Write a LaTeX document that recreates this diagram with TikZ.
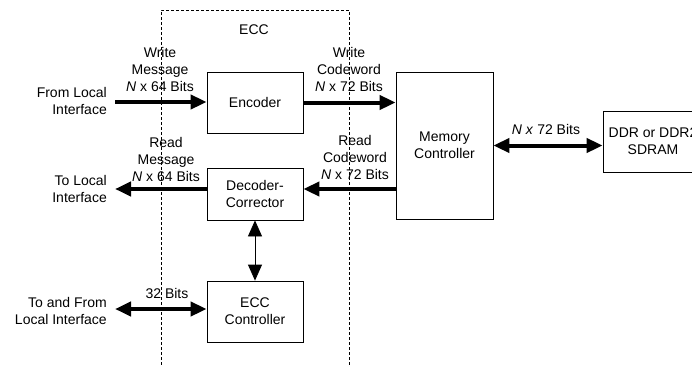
\documentclass[tikz,border=0pt]{standalone}
\usepackage{fontspec}
\setmainfont{Liberation Sans}
\usetikzlibrary{arrows.meta}

\begin{document}
\begin{tikzpicture}[x=1pt,y=-1pt,
    >={Triangle[length=16pt,width=14pt]},
    blk/.style={draw,line width=0.8pt,minimum width=96pt,inner sep=0pt,align=center,font=\fontsize{14}{17}\selectfont},
    lbl/.style={inner sep=0pt,align=center,font=\fontsize{14}{17}\selectfont},
    bus/.style={line width=4pt,->},
    ecc line/.style={line width=0.8pt,dash pattern=on 3pt off 2pt}]
  \useasboundingbox (0,0) rectangle (692,364);
  \clip (0,0) rectangle (692,364);
  \draw[ecc line] (161,370) -- (161,10) -- (349,10) -- (349,370);
  \node[lbl] (ecclbl) at (254,30) {ECC};

  \node[blk,minimum height=61pt] (enc) at (255,102.5) {Encoder};
  \node[blk,minimum height=52pt] (dec) at (255,194) {Decoder-\\Corrector};
  \node[blk,minimum height=61pt] (eccc) at (255,311.5) {ECC\\Controller};
  \node[blk,minimum width=97pt,minimum height=147pt] (mc) at (444.5,145.5) {Memory\\Controller};
  \node[blk,minimum width=100pt,minimum height=61pt] (ddr) at (653,141.5) {DDR or DDR2\\SDRAM};

  \coordinate (fromli) at (115,102);
  \coordinate (toli) at (115,189);
  \coordinate (bothli) at (115,309);

  \draw[bus] (fromli) -- (fromli -| enc.west);
  \draw[bus] (enc.east) -- (enc.east -| mc.west);
  \draw[bus] (mc.west |- toli) -- (toli -| dec.east);
  \draw[bus] (toli -| dec.west) -- (toli);
  \draw[<->,line width=0.8pt] (dec.south) -- (eccc.north);
  \draw[bus,<->] (bothli) -- (bothli -| eccc.west);
  \draw[bus,<->] (mc.east) -- (mc.east -| ddr.west);

  \node[lbl] (wmsg) at (160,69) {Write\\Message\\\textit{N} x 64 Bits};
  \node[lbl] (wcw) at (349,69) {Write\\Codeword\\\textit{N} x 72 Bits};
  \node[lbl] (rmsg) at (166,159) {Read\\Message\\\textit{N} x 64 Bits};
  \node[lbl] (rcw) at (355,157) {Read\\Codeword\\\textit{N} x 72 Bits};
  \node[lbl] (bits32) at (167,293) {32 Bits};
  \node[lbl] (ddrbits) at (546,129) {\textit{N x} 72 Bits};
  \node[lbl,anchor=east,align=right] (fromlbl) at (107,100.5) {From Local\\Interface};
  \node[lbl,anchor=east,align=right] (tolbl) at (107,189) {To Local\\Interface};
  \node[lbl,anchor=east,align=right] (bothlbl) at (107,310.5) {To and From\\Local Interface};
\end{tikzpicture}
\end{document}
